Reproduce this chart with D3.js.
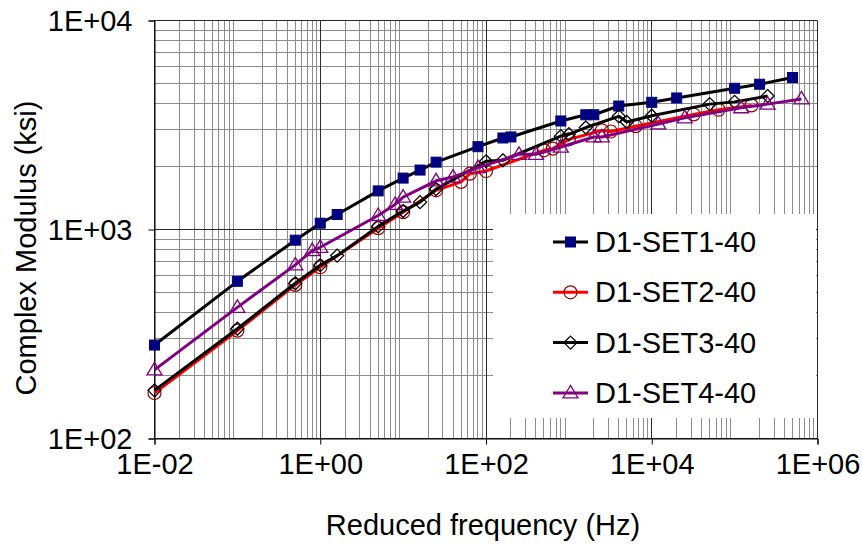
<!DOCTYPE html>
<html>
<head>
<meta charset="utf-8">
<script src="https://cdn.jsdelivr.net/npm/d3@7"></script>
<style>
  html, body { margin: 0; padding: 0; background: #fff; }
  svg text { font-family: "Liberation Sans", Arial, sans-serif; fill: #000; }
</style>
</head>
<body>
<svg id="chart" width="862" height="548"></svg>
<script>
// ---- data ----
const seriesNames = ["D1-SET1-40", "D1-SET2-40", "D1-SET3-40", "D1-SET4-40"];

const freq1 = [0.01, 0.1, 0.5, 1, 1.6, 5, 10, 16, 25, 80, 160, 200, 800, 1600, 2000, 4000, 10000, 20000, 100000, 200000, 500000];
const mod1  = [280, 565, 889, 1072, 1180, 1530, 1762, 1925, 2100, 2490, 2741, 2772, 3306, 3540, 3540, 3898, 4060, 4260, 4740, 4955, 5336];

const freq2 = [0.01, 0.1, 0.5, 1, 5, 10, 25, 50, 64, 100, 500, 640, 1000, 2500, 3200, 6400, 32000, 64000, 160000];
const mod2  = [165, 328, 543, 660, 1015, 1210, 1540, 1690, 1850, 1905, 2392, 2438, 2700, 2978, 2944, 3122, 3552, 3742, 3925];

const freq3 = [0.01, 0.1, 0.5, 1, 1.6, 5, 10, 16, 25, 100, 160, 800, 1000, 1600, 4000, 5000, 10000, 50000, 100000, 250000];
const mod3  = [170, 335, 553, 675, 750, 1035, 1225, 1352, 1560, 2120, 2143, 2797, 2855, 3075, 3480, 3270, 3500, 3980, 4080, 4350];

const freq4 = [0.01, 0.1, 0.5, 0.8, 1, 5, 8, 10, 25, 40, 80, 250, 400, 800, 2000, 2500, 12000, 25000, 120000, 250000, 640000];
const mod4  = [213, 424, 677, 793, 822, 1167, 1318, 1429, 1710, 1782, 1977, 2290, 2290, 2480, 2772, 2772, 3200, 3420, 3825, 3980, 4215];

const xTicks = [1e-2, 1e0, 1e2, 1e4, 1e6];
const yTicks = [1e2, 1e3, 1e4];
const xTickLabels = ["1E-02", "1E+00", "1E+02", "1E+04", "1E+06"];
const yTickLabels = ["1E+02", "1E+03", "1E+04"];
const xTitle = "Reduced frequency (Hz)";
const yTitle = "Complex Modulus (ksi)";

// ---- layout ----
const L = 154.5, R = 817.5, T = 20.5, B = 438.5;
const FS = "29px";
const svg = d3.select("#chart");
const x = d3.scaleLog().domain([1e-2, 1e6]).range([L, R]);
const y = d3.scaleLog().domain([1e2, 1e4]).range([B, T]);

const styles = [
  {line: "#000000", marker: "square", stroke: "#000080", fill: "#000080"},
  {line: "#FF0000", marker: "circle", stroke: "#990000", fill: "none"},
  {line: "#000000", marker: "diamond", stroke: "#000000", fill: "none"},
  {line: "#800080", marker: "triangle", stroke: "#800080", fill: "none"}
];
const data = [
  freq1.map((f, i) => [f, mod1[i]]),
  freq2.map((f, i) => [f, mod2[i]]),
  freq3.map((f, i) => [f, mod3[i]]),
  freq4.map((f, i) => [f, mod4[i]])
];

// ---- gridlines ----
const grid = svg.append("g");
const xMinor = [], yMinor = [];
for (let e = -2; e < 6; e++) for (let k = 2; k <= 9; k++) xMinor.push(k * Math.pow(10, e));
for (let e = 2; e < 4; e++) for (let k = 2; k <= 9; k++) yMinor.push(k * Math.pow(10, e));
const snap = v => Math.round(v - 0.5) + 0.5;

grid.selectAll(".xm").data(xMinor).enter().append("line")
  .attr("x1", d => snap(x(d))).attr("x2", d => snap(x(d)))
  .attr("y1", T).attr("y2", B).attr("stroke", "#8c8c8c").attr("stroke-width", 1);
grid.selectAll(".ym").data(yMinor).enter().append("line")
  .attr("y1", d => snap(y(d))).attr("y2", d => snap(y(d)))
  .attr("x1", L).attr("x2", R).attr("stroke", "#8c8c8c").attr("stroke-width", 1);
grid.selectAll(".xM").data(xTicks).enter().append("line")
  .attr("x1", d => snap(x(d))).attr("x2", d => snap(x(d)))
  .attr("y1", T).attr("y2", B).attr("stroke", "#2a2a2a").attr("stroke-width", 1);
grid.selectAll(".yM").data(yTicks).enter().append("line")
  .attr("y1", d => snap(y(d))).attr("y2", d => snap(y(d)))
  .attr("x1", L).attr("x2", R).attr("stroke", "#2a2a2a").attr("stroke-width", 1);

// ---- axes ----
const xAxis = d3.axisBottom(x).tickValues(xTicks).tickFormat((d, i) => xTickLabels[i]).tickSize(6);
const yAxis = d3.axisLeft(y).tickValues(yTicks).tickFormat((d, i) => yTickLabels[i]).tickSize(6);
const gx = svg.append("g").attr("transform", `translate(0,${B})`).call(xAxis);
const gy = svg.append("g").attr("transform", `translate(${L},0)`).call(yAxis);
[gx, gy].forEach(g => {
  g.select(".domain").attr("stroke", "#000").attr("stroke-width", 1);
  g.selectAll(".tick line").attr("stroke", "#000");
  g.selectAll(".tick text").style("font-size", FS).attr("fill", "#000");
});
gx.selectAll(".tick text").attr("y", 25).attr("dy", "0.35em");
gy.selectAll(".tick text").attr("x", -22).attr("dy", "0.35em");

// axis titles
svg.append("text").attr("x", 483).attr("y", 535).attr("text-anchor", "middle")
  .style("font-size", FS).text(xTitle);
svg.append("text").attr("transform", `translate(36,248) rotate(-90)`).attr("text-anchor", "middle")
  .style("font-size", FS).text(yTitle);

// ---- series ----
const line = d3.line().x(d => x(d[0])).y(d => y(d[1]));
function drawMarker(g, type, cx, cy, st) {
  if (type === "square") {
    g.append("rect").attr("x", cx - 5).attr("y", cy - 5).attr("width", 10).attr("height", 10)
      .attr("fill", st.fill).attr("stroke", st.stroke).attr("stroke-width", 1);
  } else if (type === "circle") {
    g.append("circle").attr("cx", cx).attr("cy", cy).attr("r", 6.5)
      .attr("fill", st.fill).attr("stroke", st.stroke).attr("stroke-width", 1.2);
  } else if (type === "diamond") {
    g.append("path").attr("d", `M${cx},${cy - 6.5}L${cx + 6.5},${cy}L${cx},${cy + 6.5}L${cx - 6.5},${cy}Z`)
      .attr("fill", st.fill).attr("stroke", st.stroke).attr("stroke-width", 1.3);
  } else {
    g.append("path").attr("d", `M${cx},${cy - 7.5}L${cx + 7.5},${cy + 5}L${cx - 7.5},${cy + 5}Z`)
      .attr("fill", st.fill).attr("stroke", st.stroke).attr("stroke-width", 1.3);
  }
}
data.forEach((ser, si) => {
  const st = styles[si];
  const g = svg.append("g");
  g.append("path").datum(ser).attr("d", line).attr("fill", "none")
    .attr("stroke", st.line).attr("stroke-width", 3).attr("stroke-linejoin", "round");
  ser.forEach(d => drawMarker(g, st.marker, x(d[0]), y(d[1]), st));
});

// ---- legend ----
const lg = svg.append("g");
lg.append("rect").attr("x", 493).attr("y", 214).attr("width", 323).attr("height", 204).attr("fill", "#fff");
seriesNames.forEach((name, i) => {
  const cy = 242 + i * 50.3;
  const st = styles[i];
  lg.append("line").attr("x1", 553).attr("x2", 588).attr("y1", cy).attr("y2", cy)
    .attr("stroke", st.line).attr("stroke-width", 3);
  drawMarker(lg, st.marker, 570.5, cy, st);
  lg.append("text").attr("x", 595).attr("y", cy).attr("dy", "0.35em")
    .style("font-size", FS).text(name);
});
</script>
</body>
</html>
